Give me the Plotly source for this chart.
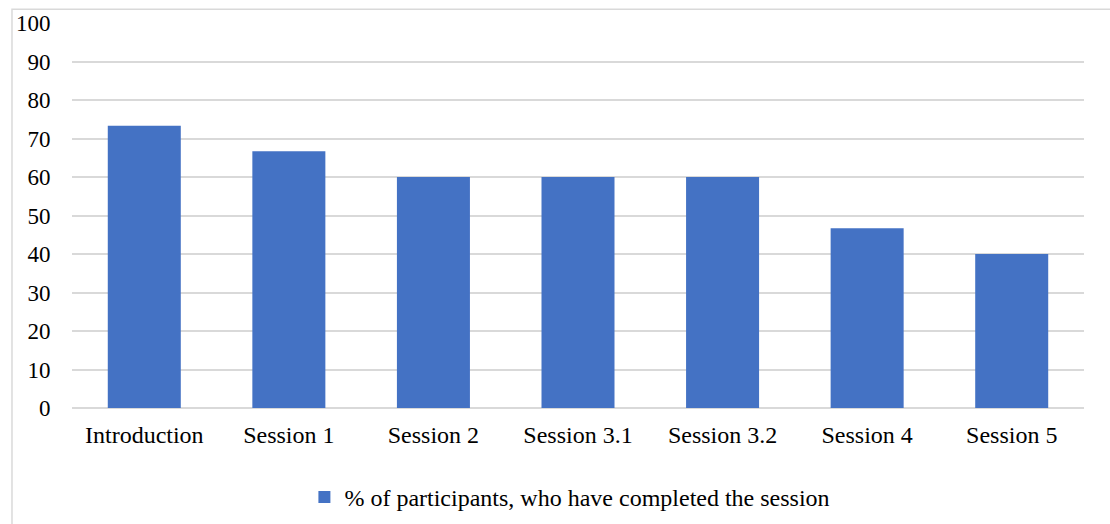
import plotly.graph_objects as go

categories = ["Introduction", "Session 1", "Session 2", "Session 3.1", "Session 3.2", "Session 4", "Session 5"]
completed_pct = [73.3, 66.7, 60.0, 60.0, 60.0, 46.7, 40.0]
series_name = "% of participants, who have completed the session"
y_ticks = [0, 10, 20, 30, 40, 50, 60, 70, 80, 90, 100]

family = "Liberation Serif, Times New Roman, serif"
tick_font = dict(family=family, size=23, color="#000000")
label_font = dict(family=family, size=24, color="#000000")
grid = "#d9d9d9"

fig = go.Figure(
    go.Bar(
        x=categories,
        y=completed_pct,
        name=series_name,
        marker=dict(color="#4472C4", line=dict(width=0)),
        showlegend=True,
    )
)

fig.update_layout(
    width=1110,
    height=524,
    margin=dict(l=72, r=26, t=23, b=116, autoexpand=False),
    paper_bgcolor="white",
    plot_bgcolor="white",
    font=label_font,
    bargap=0.495,
    showlegend=True,
    legend=dict(
        orientation="h",
        x=0.492,
        xanchor="center",
        y=-0.232,
        yanchor="middle",
        font=label_font,
        itemwidth=30,
    ),
    xaxis=dict(
        showgrid=False,
        showline=False,
        automargin=False,
        ticks="outside",
        ticklen=5,
        tickcolor="rgba(0,0,0,0)",
        tickfont=label_font,
    ),
    yaxis=dict(
        range=[0, 100],
        tickvals=y_ticks,
        automargin=False,
        showgrid=True,
        gridcolor=grid,
        gridwidth=1.5,
        zeroline=True,
        zerolinecolor=grid,
        zerolinewidth=1.5,
        showline=False,
        ticks="outside",
        ticklen=16,
        tickcolor="rgba(0,0,0,0)",
        tickfont=tick_font,
    ),
    shapes=[
        dict(
            type="rect",
            xref="paper",
            yref="paper",
            x0=-0.0593,
            x1=1.2,
            y0=-0.6,
            y1=1.036,
            line=dict(color=grid, width=1.5),
            fillcolor="rgba(0,0,0,0)",
            layer="below",
        )
    ],
)

fig.write_html("out.html")
